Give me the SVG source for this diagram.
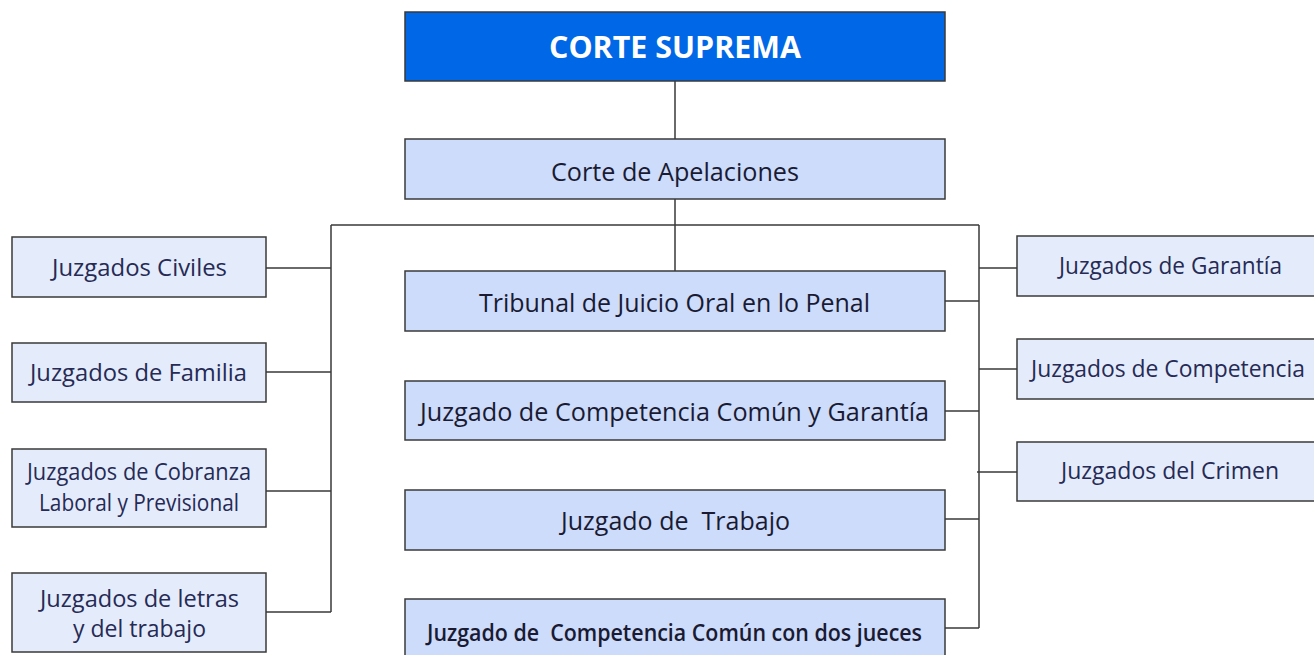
<svg xmlns="http://www.w3.org/2000/svg" width="1314" height="655" viewBox="0 0 1314 655">
<style>
.box{stroke:#3a3a3a;stroke-width:1.5}
.mid{fill:#ccdcfa}
.side{fill:#e4ecfb}
.top{fill:#0067e6}
.t{font-family:"Open Sans","Noto Sans",sans-serif;text-anchor:middle;dominant-baseline:central;fill:#1a1a33}
.c{font-size:26px}
.s{font-size:24px;fill:#262a55}
.w{font-size:31px;font-weight:bold;fill:#ffffff}
.ln{stroke:#3a3a3a;stroke-width:1.5;fill:none}
</style>
<rect width="1314" height="655" fill="#ffffff"/>
<g id="connectors">
<path class="ln" d="M675 81V139M675 199V271M331 225H979M331 225V612M979 225V628"/>
<path class="ln" d="M266 268H331M266 372H331M266 491H331M266 612H331"/>
<path class="ln" d="M945 301H979M945 411H979M945 519H979M945 628H979"/>
<path class="ln" d="M979 268H1017M979 369H1017M977 472H1017"/>
</g>
<g id="corte-suprema"><rect class="box top" x="405" y="12" width="540" height="69"/><text class="t w" x="675" y="46" textLength="252" lengthAdjust="spacingAndGlyphs">CORTE SUPREMA</text></g>
<g id="corte-apelaciones"><rect class="box mid" x="405" y="139" width="540" height="60"/><text class="t c" x="675" y="171" textLength="248" lengthAdjust="spacingAndGlyphs">Corte de Apelaciones</text></g>
<g id="tribunal-oral"><rect class="box mid" x="405" y="271" width="540" height="60"/><text class="t c" x="674.5" y="302" textLength="391" lengthAdjust="spacingAndGlyphs">Tribunal de Juicio Oral en lo Penal</text></g>
<g id="juzgado-comun-garantia"><rect class="box mid" x="405" y="381" width="540" height="59"/><text class="t c" x="674.5" y="411" textLength="509" lengthAdjust="spacingAndGlyphs">Juzgado de Competencia Común y Garantía</text></g>
<g id="juzgado-trabajo"><rect class="box mid" x="405" y="490" width="540" height="60"/><text class="t c" x="675.5" y="520" xml:space="preserve" textLength="229" lengthAdjust="spacingAndGlyphs">Juzgado de  Trabajo</text></g>
<g id="juzgado-dos-jueces"><rect class="box mid" x="405" y="599" width="540" height="62"/><text class="t c" x="674.5" y="631" xml:space="preserve" textLength="495" lengthAdjust="spacingAndGlyphs" style="font-weight:600;font-size:24px">Juzgado de  Competencia Común con dos jueces</text></g>
<g id="juzgados-civiles"><rect class="box side" x="12" y="237" width="254" height="60"/><text class="t s" x="139.5" y="266" textLength="175" lengthAdjust="spacingAndGlyphs">Juzgados Civiles</text></g>
<g id="juzgados-familia"><rect class="box side" x="12" y="343" width="254" height="59"/><text class="t s" x="138.5" y="371" textLength="217" lengthAdjust="spacingAndGlyphs">Juzgados de Familia</text></g>
<g id="juzgados-cobranza"><rect class="box side" x="12" y="449" width="254" height="78"/><text class="t s" x="139" y="470" textLength="224" lengthAdjust="spacingAndGlyphs">Juzgados de Cobranza</text><text class="t s" x="139" y="501" textLength="200" lengthAdjust="spacingAndGlyphs">Laboral y Previsional</text></g>
<g id="juzgados-letras"><rect class="box side" x="12" y="573" width="254" height="79"/><text class="t s" x="139.5" y="597" textLength="199" lengthAdjust="spacingAndGlyphs">Juzgados de letras</text><text class="t s" x="139.5" y="627" textLength="133" lengthAdjust="spacingAndGlyphs">y del trabajo</text></g>
<g id="juzgados-garantia"><rect class="box side" x="1017" y="236" width="310" height="60"/><text class="t s" x="1170.5" y="264" textLength="223" lengthAdjust="spacingAndGlyphs">Juzgados de Garantía</text></g>
<g id="juzgados-competencia"><rect class="box side" x="1017" y="339" width="310" height="60"/><text class="t s" x="1168" y="367" textLength="274" lengthAdjust="spacingAndGlyphs">Juzgados de Competencia</text></g>
<g id="juzgados-crimen"><rect class="box side" x="1017" y="442" width="310" height="59"/><text class="t s" x="1170" y="469" textLength="218" lengthAdjust="spacingAndGlyphs">Juzgados del Crimen</text></g>
</svg>
